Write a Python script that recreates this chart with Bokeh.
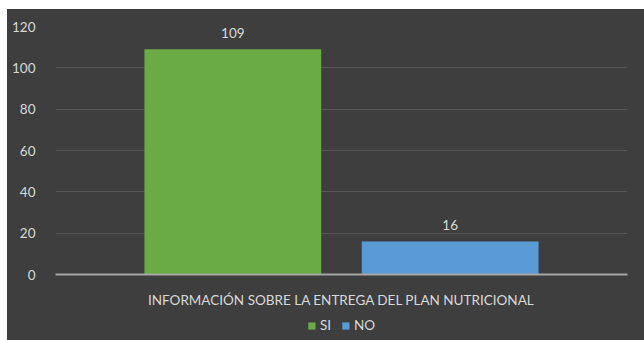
from bokeh.plotting import figure
from bokeh.models import FactorRange, Legend, LegendItem, ColumnDataSource, Spacer, Range1d, FixedTicker
from bokeh.transform import dodge
from bokeh.layouts import column, row
from bokeh.embed import file_html
from bokeh.resources import INLINE
from bokeh.core.properties import value

category = ["INFORMACIÓN SOBRE LA ENTREGA DEL PLAN NUTRICIONAL"]
series_names = ["SI", "NO"]
si_values = [109]
no_values = [16]
y_ticks = [0, 20, 40, 60, 80, 100, 120]

FONT = "Lato"
FS = "13.5px"
TXT = "#d9d9d9"
BG = "#3e3e3e"
GREEN = "#6aab44"
BLUE = "#5b9bd5"

p = figure(width=637, height=301, output_backend="svg", toolbar_location=None,
           x_range=FactorRange(factors=category, range_padding=0),
           y_range=Range1d(0, 120),
           min_border_left=48, min_border_right=17, min_border_top=17, min_border_bottom=34)
p.background_fill_color = BG
p.border_fill_color = BG
p.outline_line_color = None
p.styles = {"background-color": BG}

src_si = ColumnDataSource(dict(x=category, y=si_values, lab=[str(v) for v in si_values]))
src_no = ColumnDataSource(dict(x=category, y=no_values, lab=[str(v) for v in no_values]))

p.vbar(x=dodge("x", -0.19, range=p.x_range), top="y", width=0.309, source=src_si,
       fill_color=GREEN, line_color=None)
p.vbar(x=dodge("x", 0.19, range=p.x_range), top="y", width=0.309, source=src_no,
       fill_color=BLUE, line_color=None)

for src, off in ((src_si, -0.19), (src_no, 0.19)):
    p.text(x=dodge("x", off, range=p.x_range), y="y", text="lab", source=src,
           text_align="center", text_baseline="bottom", y_offset=-11,
           text_font=value(FONT), text_font_size=FS, text_color=TXT)

p.xgrid.grid_line_color = None
p.ygrid.grid_line_color = "#575757"
p.ygrid.grid_line_width = 1

p.yaxis.ticker = FixedTicker(ticks=y_ticks)
p.yaxis.axis_line_color = None
p.yaxis.major_tick_line_color = None
p.yaxis.minor_tick_line_color = None
p.yaxis.major_label_standoff = 14
p.yaxis.major_label_text_font = FONT
p.yaxis.major_label_text_font_size = FS
p.yaxis.major_label_text_color = TXT

p.xaxis.axis_line_color = "#a6a6a6"
p.xaxis.axis_line_width = 2
p.xaxis.major_tick_line_color = None
p.xaxis.minor_tick_line_color = None
p.xaxis.major_label_standoff = 11
p.xaxis.major_label_text_font = FONT
p.xaxis.major_label_text_font_size = FS
p.xaxis.major_label_text_color = TXT

# legend strip below the chart (zero-height proxy glyphs carry the legend swatches)
lg = figure(width=637, height=30, output_backend="svg", toolbar_location=None,
            x_range=Range1d(0, 1), y_range=Range1d(0, 1),
            min_border=0, min_border_left=0, min_border_right=0,
            min_border_top=0, min_border_bottom=0)
lg.axis.visible = False
lg.grid.visible = False
lg.background_fill_color = BG
lg.border_fill_color = BG
lg.outline_line_color = None
lg.styles = {"background-color": BG}
proxy = dict(x=[0.5], top=[0], bottom=[0])
l_si = lg.vbar(x="x", top="top", bottom="bottom", width=0.0, source=ColumnDataSource(proxy),
               fill_color=GREEN, line_color=None)
l_no = lg.vbar(x="x", top="top", bottom="bottom", width=0.0, source=ColumnDataSource(proxy),
               fill_color=BLUE, line_color=None)

legend = Legend(items=[LegendItem(label=series_names[0], renderers=[l_si]),
                       LegendItem(label=series_names[1], renderers=[l_no])],
                orientation="horizontal", location="center",
                background_fill_alpha=0, border_line_color=None,
                glyph_width=9, glyph_height=9, label_standoff=4, spacing=10,
                label_width=5,
                label_text_font=FONT, label_text_font_size=FS, label_text_color=TXT,
                label_height=12, margin=0, padding=2)
lg.add_layout(legend)

layout = column(Spacer(height=9), row(Spacer(width=7), column(p, lg, spacing=0)), spacing=0)
open("out.html", "w").write(file_html(layout, INLINE))
